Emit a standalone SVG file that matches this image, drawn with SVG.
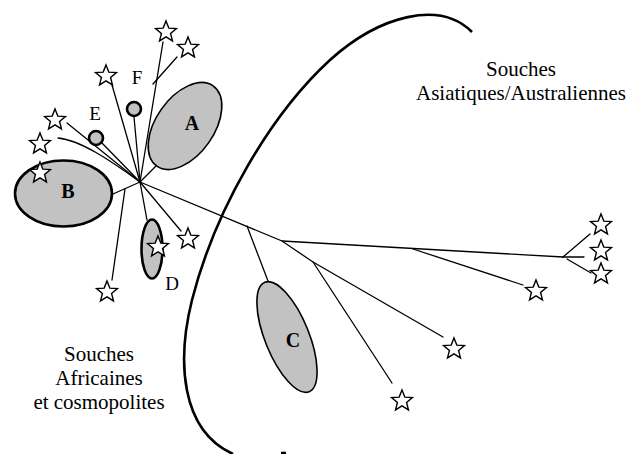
<svg xmlns="http://www.w3.org/2000/svg" width="627" height="454" viewBox="0 0 627 454">
<style>
.ln{stroke:#000;stroke-width:1.3;fill:none;stroke-linecap:round}
.big{stroke:#000;stroke-width:2.6;fill:none}
.grp{fill:#c2c2c2;stroke:#000}
.star{fill:#fff;stroke:#000;stroke-width:1.4;stroke-linejoin:miter}
.lab{font-family:"Liberation Serif","Times New Roman",serif;font-size:19px;fill:#000;text-anchor:middle}
.bold{font-weight:bold;font-size:20px}
.txt{font-family:"Liberation Serif","Times New Roman",serif;font-size:21px;fill:#000;text-anchor:middle}
</style>
<defs>
<path id="st" d="M0,-11 L2.82,-3.88 L10.46,-3.4 L4.57,1.48 L6.47,8.9 L0,4.8 L-6.47,8.9 L-4.57,1.48 L-10.46,-3.4 L-2.82,-3.88 Z"/>
</defs>
<rect width="627" height="454" fill="#fff"/>

<!-- Big boundary curve -->
<path class="big" d="M472,32 C440,0 380,15 330,60 C270,115 215,210 192,300 C177,360 180,430 233,454"/>
<path class="big" d="M281,453 L286,453" stroke-width="2"/>

<!-- Connectors -->
<g id="connectors">
<path class="ln" d="M140,182 L163,42"/>
<path class="ln" d="M153,84 L177,57"/>
<path class="ln" d="M140,182 L112,85"/>
<path class="ln" d="M140,182 L134,117"/>
<path class="ln" d="M140,182 L101,142"/>
<path class="ln" d="M140,182 L67,123"/>
<path class="ln" d="M140,182 C110,160 80,140 58,138"/>
<path class="ln" d="M140,182 L113,194"/>
<path class="ln" d="M125,189 L112,280"/>
<path class="ln" d="M140,182 L147,220"/>
<path class="ln" d="M140,182 L181,231"/>
<path class="ln" d="M140,182 L156,166"/>
<path class="ln" d="M140,182 L282,241 L313,262 L443,337"/>
<path class="ln" d="M247,226 L268,281"/>
<path class="ln" d="M313,262 L392,383"/>
<path class="ln" d="M282,241 L563,257"/>
<path class="ln" d="M413,249 L523,285"/>
<path class="ln" d="M563,257 L590,234"/>
<path class="ln" d="M563,257 L584,257"/>
<path class="ln" d="M567,259 L591,273"/>
</g>

<!-- Groups (ellipses) -->
<g id="node-A">
<ellipse class="grp" cx="185" cy="126" rx="49" ry="29" transform="rotate(-55 185 126)" stroke-width="1.6"/>
<text class="lab bold" x="192" y="130">A</text>
</g>
<g id="node-B">
<ellipse class="grp" cx="63.5" cy="193.5" rx="48.5" ry="33" stroke-width="2.6"/>
<text class="lab bold" x="68" y="198">B</text>
</g>
<g id="node-C">
<ellipse class="grp" cx="287" cy="337" rx="22" ry="59" transform="rotate(-22 287 337)" stroke-width="1.6"/>
<text class="lab bold" x="293" y="347">C</text>
</g>
<g id="node-D">
<ellipse class="grp" cx="152" cy="249" rx="10.5" ry="29.5" stroke-width="2.6"/>
<text class="lab" x="172" y="290">D</text>
</g>
<g id="node-E">
<circle class="grp" cx="96" cy="138" r="7" stroke-width="2.6"/>
<text class="lab" x="95" y="120">E</text>
</g>
<g id="node-F">
<circle class="grp" cx="134" cy="109" r="7" stroke-width="2.6"/>
<text class="lab" x="137" y="84">F</text>
</g>

<!-- Stars -->
<g id="stars">
<use href="#st" class="star" x="166" y="32"/>
<use href="#st" class="star" x="188" y="48"/>
<use href="#st" class="star" x="106" y="76"/>
<use href="#st" class="star" x="55" y="120"/>
<use href="#st" class="star" x="40" y="144"/>
<use href="#st" class="star" x="40" y="173"/>
<use href="#st" class="star" x="107" y="292"/>
<use href="#st" class="star" x="158" y="247"/>
<use href="#st" class="star" x="188" y="239"/>
<use href="#st" class="star" x="601" y="225"/>
<use href="#st" class="star" x="601" y="251"/>
<use href="#st" class="star" x="601" y="274"/>
<use href="#st" class="star" x="536" y="291"/>
<use href="#st" class="star" x="454" y="349"/>
<use href="#st" class="star" x="402" y="401"/>
</g>

<!-- Region labels -->
<g id="label-asia">
<text class="txt" x="521" y="76">Souches</text>
<text class="txt" x="521" y="100">Asiatiques/Australiennes</text>
</g>
<g id="label-africa">
<text class="txt" x="99" y="361">Souches</text>
<text class="txt" x="99" y="385">Africaines</text>
<text class="txt" x="99" y="409">et cosmopolites</text>
</g>
</svg>
